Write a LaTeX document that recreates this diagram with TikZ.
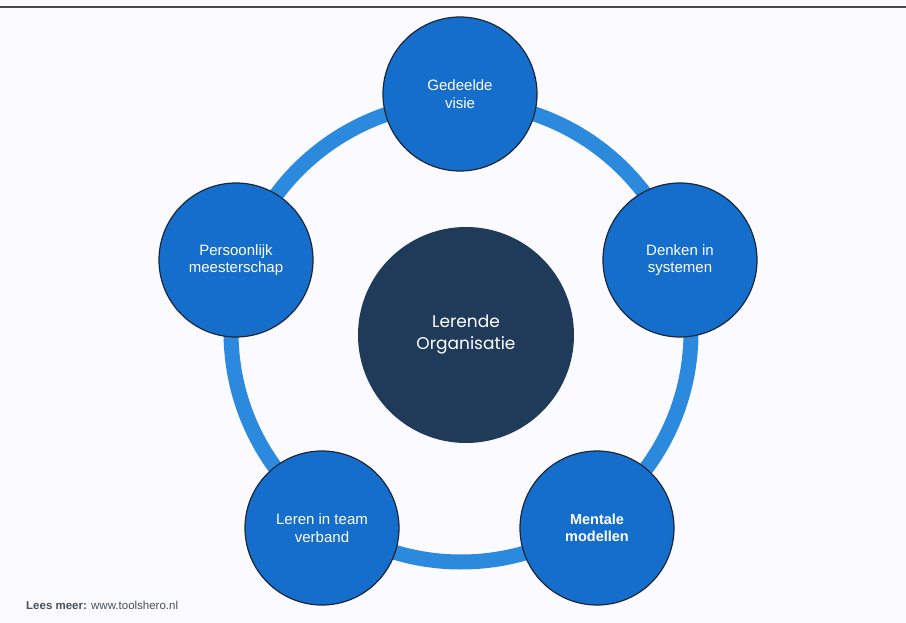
\documentclass[tikz,border=0pt]{standalone}
\usepackage{fontspec}
\setmainfont{Liberation Sans}
\newfontfamily\coretxt{Poppins}
\definecolor{ringblue}{RGB}{44,138,222}
\definecolor{discblue}{RGB}{22,110,204}
\definecolor{coreblue}{RGB}{32,58,90}
\definecolor{rimdark}{RGB}{26,38,58}
\definecolor{footgray}{RGB}{70,80,95}

\begin{document}
\begin{tikzpicture}[x=1pt, y=-1pt,
    disc/.style={circle, draw=rimdark, line width=1.2pt, fill=discblue,
      minimum size=154pt, inner sep=0pt, align=center, text=white,
      font=\fontsize{15}{17.5}\selectfont},
    core/.style={circle, fill=coreblue, minimum size=216pt, inner sep=0pt,
      align=center, text=white, font=\coretxt\fontsize{17}{22}\selectfont}]
  % Page
  \useasboundingbox (0,0) rectangle (906,623);
  \fill[white!98!blue] (0,0) rectangle (906,623);
  \draw[line width=2pt, gray!55!black] (0,7) -- (906,7);

  % Ring
  \coordinate (ringc) at (461,332);
  \draw[ringblue, line width=15pt] (ringc) circle (230pt);

  % Centre
  \node[core] (lerende) at (466,335) {Lerende\\Organisatie};

  % Five disciplines
  \node[disc] (gedeelde) at (460,94) {Gedeelde\\visie};
  \node[disc] (denken) at (680,260) {Denken in\\systemen};
  \node[disc, font=\bfseries\fontsize{14.5}{17.5}\selectfont] (mentale) at (597,528) {Mentale\\modellen};
  \node[disc] (leren) at (322,528) {Leren in team\\verband};
  \node[disc] (persoonlijk) at (236,260) {Persoonlijk\\meesterschap};

  % Source
  \node[anchor=west, inner sep=0pt, text=footgray, font=\fontsize{11.5}{13}\selectfont]
    (bron) at (26,605) {\textbf{Lees meer:} www.toolshero.nl};
\end{tikzpicture}
\end{document}
